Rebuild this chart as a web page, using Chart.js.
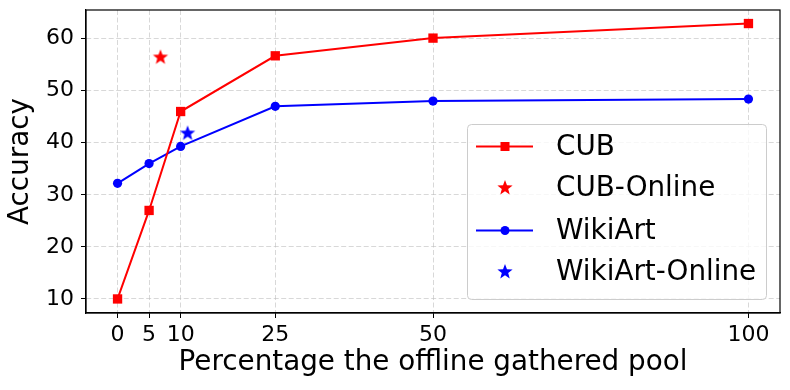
<!DOCTYPE html>
<html>
<head>
<meta charset="utf-8">
<script src="https://cdn.jsdelivr.net/npm/chart.js@4/dist/chart.umd.min.js"></script>
<style>
  html, body { margin: 0; padding: 0; background: #ffffff; }
  #wrap { width: 790px; height: 390px; }
</style>
</head>
<body>
<div id="wrap"><canvas id="c" width="790" height="390"></canvas></div>
<script>
// ---- data ----
const percentages = [0, 5, 10, 25, 50, 100];
const cubAccuracy = [10.0, 27.0, 46.0, 56.7, 60.1, 62.9];
const wikiartAccuracy = [32.2, 36.0, 39.3, 47.0, 48.0, 48.4];
const cubOnline = [{ x: 6.8, y: 56.4 }];
const wikiartOnline = [{ x: 11.1, y: 41.8 }];
const xTickValues = [0, 5, 10, 25, 50, 100];
const yTickValues = [10, 20, 30, 40, 50, 60];
const seriesNames = ['CUB', 'CUB-Online', 'WikiArt', 'WikiArt-Online'];

const FONT = "'DejaVu Sans', 'Liberation Sans', sans-serif";

function starCanvas(color, R) {
  const s = Math.ceil(R * 2 + 2);
  const cv = document.createElement('canvas');
  cv.width = s; cv.height = s;
  const g = cv.getContext('2d');
  const cx = s / 2, cy = s / 2, r = R * 0.42;
  g.beginPath();
  for (let i = 0; i < 10; i++) {
    const a = -Math.PI / 2 + i * Math.PI / 5;
    const rr = i % 2 === 0 ? R : r;
    const px = cx + rr * Math.cos(a), py = cy + rr * Math.sin(a);
    if (i === 0) g.moveTo(px, py); else g.lineTo(px, py);
  }
  g.closePath();
  g.fillStyle = color;
  g.fill();
  return cv;
}
const redStar = starCanvas('#ff0000', 8);
const blueStar = starCanvas('#0000ff', 8);

const toPts = (xs, ys) => xs.map((x, i) => ({ x: x, y: ys[i] }));

const frame = {
  id: 'frame',
  afterDatasetsDraw(chart) {
    const { ctx, chartArea: a } = chart;
    ctx.save();
    ctx.strokeStyle = '#000';
    ctx.lineWidth = 1.2;
    ctx.strokeRect(a.left, a.top, a.right - a.left, a.bottom - a.top);
    ctx.restore();
  }
};

const mplLegend = {
  id: 'mplLegend',
  afterDraw(chart) {
    const { ctx, chartArea: a } = chart;
    const right = a.right - 14, bottom = a.bottom - 14;
    const w = 299, h = 175;
    const left = right - w, top = bottom - h;
    ctx.save();
    ctx.beginPath();
    ctx.roundRect(left + 0.5, top + 0.5, w, h, 4);
    ctx.fillStyle = 'rgba(255,255,255,0.8)';
    ctx.fill();
    ctx.strokeStyle = '#cccccc';
    ctx.lineWidth = 1;
    ctx.stroke();
    const rowY = [22.5, 64, 106.5, 148].map(v => top + v);
    const lx0 = left + 9, lx1 = left + 66, mx = left + 38, tx = left + 89;
    const dsets = chart.data.datasets;
    ctx.font = '27.8px ' + FONT;
    ctx.textBaseline = 'middle';
    ctx.textAlign = 'left';
    dsets.forEach((ds, i) => {
      const y = rowY[i];
      if (ds.showLine) {
        ctx.beginPath();
        ctx.strokeStyle = ds.borderColor;
        ctx.lineWidth = 2;
        ctx.moveTo(lx0, y); ctx.lineTo(lx1, y); ctx.stroke();
        ctx.fillStyle = ds.backgroundColor;
        if (ds.pointStyle === 'rect') {
          ctx.fillRect(mx - 4.5, y - 4.5, 9, 9);
        } else {
          ctx.beginPath(); ctx.arc(mx, y, 4.5, 0, Math.PI * 2); ctx.fill();
        }
      } else {
        const img = ds.pointStyle;
        ctx.drawImage(img, mx - img.width / 2, y - img.height / 2);
      }
      ctx.fillStyle = '#000';
      ctx.fillText(ds.label, tx, y + 1);
    });
    ctx.restore();
  }
};

new Chart(document.getElementById('c'), {
  type: 'scatter',
  data: {
    datasets: [
      { label: seriesNames[0], data: toPts(percentages, cubAccuracy), showLine: true,
        borderColor: '#ff0000', backgroundColor: '#ff0000', borderWidth: 2,
        pointStyle: 'rect', pointRadius: 6.6, pointHoverRadius: 6.6, pointBorderWidth: 0 },
      { label: seriesNames[1], data: cubOnline, showLine: false,
        borderColor: '#ff0000', backgroundColor: '#ff0000',
        pointStyle: redStar, pointRadius: 8 },
      { label: seriesNames[2], data: toPts(percentages, wikiartAccuracy), showLine: true,
        borderColor: '#0000ff', backgroundColor: '#0000ff', borderWidth: 2,
        pointStyle: 'circle', pointRadius: 4.6, pointHoverRadius: 4.6, pointBorderWidth: 0 },
      { label: seriesNames[3], data: wikiartOnline, showLine: false,
        borderColor: '#0000ff', backgroundColor: '#0000ff',
        pointStyle: blueStar, pointRadius: 8 }
    ]
  },
  options: {
    responsive: false,
    animation: false,
    events: [],
    layout: { padding: { left: 0, right: 10, top: 10, bottom: 0 } },
    plugins: { legend: { display: false }, tooltip: { enabled: false } },
    scales: {
      x: {
        type: 'linear', min: -5, max: 105,
        afterBuildTicks: s => { s.ticks = xTickValues.map(v => ({ value: v })); },
        afterFit: s => { s.height = 77; s.paddingLeft = 0; s.paddingRight = 0; },
        ticks: { color: '#000', font: { family: FONT, size: 22 }, padding: 4, maxRotation: 0 },
        grid: { color: 'rgba(190,190,190,0.6)', lineWidth: 1, tickColor: '#000', tickLength: 5, tickBorderDash: [] },
        border: { display: true, color: '#000', width: 1.2, dash: [5, 2.5] },
        title: { display: true, text: 'Percentage the offline gathered pool', color: '#000',
                 font: { family: FONT, size: 27.8 }, padding: { top: 0, bottom: 11 } }
      },
      y: {
        type: 'linear', min: 7.3, max: 65.5,
        afterBuildTicks: s => { s.ticks = yTickValues.map(v => ({ value: v })); },
        afterFit: s => { s.width = 86; s.paddingTop = 0; s.paddingBottom = 0; },
        ticks: { color: '#000', font: { family: FONT, size: 22 }, padding: 7 },
        grid: { color: 'rgba(190,190,190,0.6)', lineWidth: 1, tickColor: '#000', tickLength: 5, tickBorderDash: [] },
        border: { display: true, color: '#000', width: 1.2, dash: [5, 2.5] },
        title: { display: true, text: 'Accuracy', color: '#000',
                 font: { family: FONT, size: 27.8 }, padding: { top: 4, bottom: 0 } }
      }
    }
  },
  plugins: [frame, mplLegend]
});
</script>
</body>
</html>
